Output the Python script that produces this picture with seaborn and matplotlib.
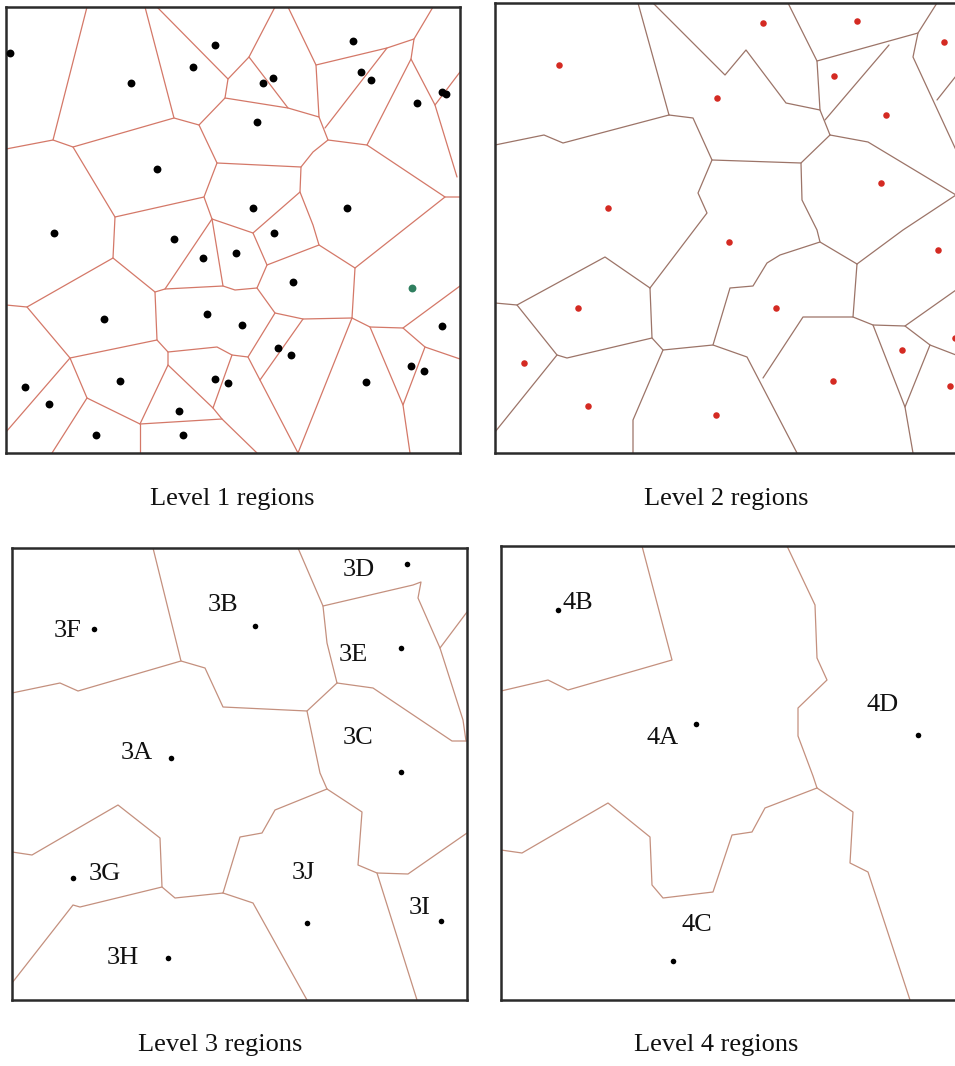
import matplotlib
matplotlib.use("Agg")
import matplotlib.pyplot as plt
import numpy as np
import pandas as pd
import seaborn as sns

# ---------------- data (image pixel coordinates) ----------------
L1_PX = [10, 215, 193, 131, 353, 361, 371, 263, 273, 442, 446, 417, 257, 157, 253, 347,
         54, 274, 174, 203, 236, 293, 104, 207, 242, 442, 278, 291, 25, 120, 215, 228,
         366, 411, 424, 49, 179, 96, 183]
L1_PY = [53, 45, 67, 83, 41, 72, 80, 83, 78, 92, 94, 103, 122, 169, 208, 208,
         233, 233, 239, 258, 253, 282, 319, 314, 325, 326, 348, 355, 387, 381, 379, 383,
         382, 366, 371, 404, 411, 435, 435]
L1_GREEN = [(412, 288)]
L1_EDGES = [
    [(87, 7), (53, 140)],
    [(6, 149), (53, 140), (73, 147), (174, 118), (199, 125), (225, 98), (228, 79), (157, 7)],
    [(145, 7), (174, 118)],
    [(228, 79), (249, 57), (275, 7)],
    [(249, 57), (288, 108)],
    [(225, 98), (288, 108), (319, 117), (316, 65), (288, 7)],
    [(316, 65), (387, 48), (414, 39), (433, 7)],
    [(387, 48), (325, 128)],
    [(319, 117), (328, 140), (367, 145), (445, 197), (460, 197)],
    [(414, 39), (411, 59), (367, 145)],
    [(411, 59), (435, 105), (457, 177)],
    [(435, 105), (460, 72)],
    [(328, 140), (313, 152), (301, 167), (217, 163), (199, 125)],
    [(301, 167), (300, 192), (313, 225), (319, 245)],
    [(300, 192), (253, 233), (267, 265)],
    [(217, 163), (204, 197), (212, 219), (253, 233)],
    [(73, 147), (115, 217), (204, 197)],
    [(115, 217), (113, 258), (27, 307), (6, 305)],
    [(113, 258), (155, 292), (165, 289), (212, 219)],
    [(165, 289), (223, 286), (212, 219)],
    [(223, 286), (235, 290), (257, 288), (267, 265), (319, 245), (355, 268), (445, 197)],
    [(257, 288), (275, 313), (303, 319), (352, 318), (355, 268)],
    [(27, 307), (70, 358), (6, 432)],
    [(155, 292), (157, 340), (70, 358), (87, 398)],
    [(157, 340), (168, 352), (217, 347), (232, 355), (248, 357), (298, 453)],
    [(168, 352), (168, 365), (140, 424), (87, 398), (52, 453)],
    [(140, 424), (140, 453)],
    [(168, 365), (213, 408), (222, 419), (257, 453)],
    [(140, 424), (222, 419)],
    [(232, 355), (213, 408)],
    [(275, 313), (248, 357)],
    [(303, 319), (260, 380)],
    [(352, 318), (298, 453)],
    [(352, 318), (370, 327), (403, 328), (460, 286)],
    [(403, 328), (425, 347), (460, 359)],
    [(425, 347), (403, 405)],
    [(370, 327), (403, 405), (410, 453)],
]

L2_PX = [559, 763, 857, 944, 717, 834, 886, 881, 608, 729, 938, 578, 776, 955, 524, 902,
         950, 588, 716, 833]
L2_PY = [65, 23, 21, 42, 98, 76, 115, 183, 208, 242, 250, 308, 308, 338, 363, 350,
         386, 406, 415, 381]
L2_EDGES = [
    [(638, 3), (669, 115)],
    [(653, 3), (725, 75), (746, 50), (786, 103), (820, 110)],
    [(788, 3), (817, 61), (918, 33), (937, 3)],
    [(817, 61), (820, 110), (830, 135)],
    [(889, 45), (825, 120)],
    [(918, 33), (913, 57), (956, 150)],
    [(937, 100), (956, 76)],
    [(669, 115), (693, 118), (712, 160), (801, 163), (830, 135)],
    [(669, 115), (563, 143), (544, 135), (495, 145)],
    [(830, 135), (868, 142), (956, 195)],
    [(712, 160), (698, 193), (707, 213), (650, 288)],
    [(801, 163), (802, 200), (817, 230), (820, 242)],
    [(956, 195), (903, 230), (857, 264)],
    [(650, 288), (605, 257), (517, 305), (495, 303)],
    [(650, 288), (652, 338), (567, 358), (557, 355), (517, 305)],
    [(557, 355), (495, 432)],
    [(652, 338), (663, 350), (713, 345), (747, 357), (797, 453)],
    [(663, 350), (633, 420), (633, 453)],
    [(713, 345), (730, 288), (753, 286), (767, 263), (780, 255), (820, 242), (857, 264)],
    [(857, 264), (853, 317), (803, 317), (763, 378)],
    [(853, 317), (873, 325), (905, 326), (956, 290)],
    [(905, 326), (930, 345), (956, 355)],
    [(873, 325), (905, 407), (913, 453)],
    [(930, 345), (905, 407)],
]

L3_NAMES = ["3D", "3B", "3F", "3E", "3A", "3C", "3G", "3J", "3I", "3H"]
L3_PX = [407, 255, 94, 401, 171, 401, 73, 307, 441, 168]
L3_PY = [564, 626, 629, 648, 758, 772, 878, 923, 921, 958]
L3_TX = [359, 223, 68, 353, 137, 358, 105, 303, 420, 123]
L3_TY = [570, 605, 631, 655, 753, 738, 874, 873, 908, 958]
L3_EDGES = [
    [(153, 548), (181, 661), (205, 668), (223, 707), (307, 711), (337, 683)],
    [(181, 661), (78, 691), (60, 683), (12, 693)],
    [(298, 548), (323, 606), (413, 585), (421, 582), (418, 598), (440, 648), (463, 720),
     (466, 741)],
    [(440, 648), (467, 612)],
    [(323, 606), (327, 643), (337, 683)],
    [(337, 683), (373, 688), (452, 741), (467, 741)],
    [(307, 711), (320, 773), (327, 789)],
    [(327, 789), (275, 810), (262, 833), (240, 837), (223, 893)],
    [(327, 789), (362, 812), (358, 865), (377, 873), (408, 874), (467, 833)],
    [(377, 873), (417, 1000)],
    [(223, 893), (175, 898), (162, 887), (160, 838), (118, 805), (32, 855), (12, 852)],
    [(162, 887), (80, 907), (73, 905), (12, 983)],
    [(223, 893), (253, 903), (307, 1000)],
]

L4_NAMES = ["4B", "4A", "4D", "4C"]
L4_PX = [558, 696, 918, 673]
L4_PY = [610, 724, 735, 961]
L4_TX = [578, 663, 883, 697]
L4_TY = [603, 738, 705, 925]
L4_EDGES = [
    [(642, 546), (672, 660), (568, 690), (548, 680), (501, 691)],
    [(787, 546), (815, 605), (817, 658), (827, 680), (798, 708), (798, 736), (813, 776),
     (817, 788)],
    [(817, 788), (765, 808), (752, 832), (732, 835), (713, 892), (663, 898), (652, 885),
     (650, 837), (608, 803), (522, 853), (501, 850)],
    [(817, 788), (853, 812), (850, 863), (868, 872), (910, 1000)],
]

TITLES = ["Level 1 regions", "Level 2 regions", "Level 3 regions", "Level 4 regions"]
TITLE_X = [232, 726, 220, 716]
TITLE_Y = [499, 499, 1045, 1045]

# ---------------- figure ----------------
sns.set_theme(style="white")
plt.rcParams["font.family"] = ["Liberation Serif", "DejaVu Serif"]

W, H = 955, 1066
fig = plt.figure(figsize=(W / 100, H / 100), dpi=100)
fig.patch.set_facecolor("white")


def panel(x0, x1, y0, y1):
    ax = fig.add_axes([x0 / W, 1 - y1 / H, (x1 - x0) / W, (y1 - y0) / H])
    ax.set_xlim(x0, x1)
    ax.set_ylim(y1, y0)
    ax.set_xticks([])
    ax.set_yticks([])
    ax.set_facecolor("white")
    for s in ax.spines.values():
        s.set_color("#2b2b2b")
        s.set_linewidth(1.8)
    return ax


def draw_edges(ax, edges, color):
    rows = []
    for k, poly in enumerate(edges):
        for j, (x, y) in enumerate(poly):
            rows.append({"seg": k, "ord": j, "x": x, "y": y})
    df = pd.DataFrame(rows)
    sns.lineplot(data=df, x="x", y="y", units="seg", estimator=None, sort=False,
                 color=color, linewidth=0.9, ax=ax, legend=False)
    ax.set_xlabel("")
    ax.set_ylabel("")


ax1 = panel(6, 460, 7, 453)
draw_edges(ax1, L1_EDGES, "#d47868")
sns.scatterplot(x=L1_PX, y=L1_PY, color="black", s=32, linewidth=0, ax=ax1, zorder=5)
sns.scatterplot(x=[p[0] for p in L1_GREEN], y=[p[1] for p in L1_GREEN], color="#2f7f5f",
                s=32, linewidth=0, ax=ax1, zorder=5)
ax1.set_xlim(6, 460); ax1.set_ylim(453, 7)

ax2 = panel(495, 962, 3, 453)
draw_edges(ax2, L2_EDGES, "#9c7468")
sns.scatterplot(x=L2_PX, y=L2_PY, color="#d42a22", s=22, linewidth=0, ax=ax2, zorder=5)
ax2.set_xlim(495, 962); ax2.set_ylim(453, 3)

ax3 = panel(12, 467, 548, 1000)
draw_edges(ax3, L3_EDGES, "#c4907e")
sns.scatterplot(x=L3_PX, y=L3_PY, color="black", s=16, linewidth=0, ax=ax3, zorder=5)
for n, tx, ty in zip(L3_NAMES, L3_TX, L3_TY):
    ax3.text(tx, ty, n, ha="center", va="center", fontsize=19, color="#111111")
ax3.set_xlim(12, 467); ax3.set_ylim(1000, 548)

ax4 = panel(501, 962, 546, 1000)
draw_edges(ax4, L4_EDGES, "#c4907e")
sns.scatterplot(x=L4_PX, y=L4_PY, color="black", s=16, linewidth=0, ax=ax4, zorder=5)
for n, tx, ty in zip(L4_NAMES, L4_TX, L4_TY):
    ax4.text(tx, ty, n, ha="center", va="center", fontsize=19, color="#111111")
ax4.set_xlim(501, 962); ax4.set_ylim(1000, 546)

for t, tx, ty in zip(TITLES, TITLE_X, TITLE_Y):
    fig.text(tx / W, 1 - ty / H, t, ha="center", va="center", fontsize=19, color="#111111")

fig.savefig("out.png", dpi=100, facecolor="white")
